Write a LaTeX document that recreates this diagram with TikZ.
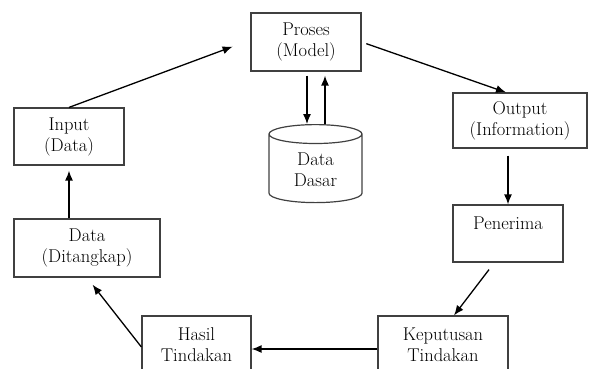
\documentclass[tikz,border=0pt]{standalone}
\usepackage{fontspec}
\usepackage{tikz}
\usetikzlibrary{shapes,arrows.meta,positioning,calc}

\begin{document}
\begin{tikzpicture}[
    x=1pt, y=-1pt,
    font=\fontsize{18.5}{21}\selectfont,
    block/.style={rectangle, draw=black!75, line width=1.2pt, align=center, minimum height=58pt, inner sep=2pt},
    dbase/.style={cylinder, shape border rotate=90, draw=black!75, line width=1.2pt, align=center, aspect=0.4, minimum width=93pt, minimum height=78pt, inner sep=2pt},
    flow/.style={-{Latex[length=10pt,width=8pt]}, line width=1.3pt}
]
    \useasboundingbox (0,0) rectangle (589,368);

    \node[block, minimum width=110pt] (proses) at (306,42) {Proses\\(Model)};
    \node[dbase] (dasar) at (315.5,170) {Data\\Dasar};
    \node[block, minimum width=110pt, minimum height=57pt] (input) at (69,136.5) {Input\\(Data)};
    \node[block, minimum width=134pt, minimum height=55pt] (output) at (520,120.5) {Output\\(Information)};
    \node[block, minimum width=110pt, minimum height=57pt] (penerima) at (508,233.5) {Penerima\\\mbox{}};
    \node[block, minimum width=146pt] (data) at (87,248) {Data\\(Ditangkap)};
    \node[block, minimum width=130pt] (keputusan) at (443,345) {Keputusan\\Tindakan};
    \node[block, minimum width=109pt] (hasil) at (196.5,345) {Hasil\\Tindakan};

    % siklus informasi
    \draw[flow, shorten >=19pt] (input.north) -- ([yshift=2pt]proses.west);
    \draw[flow, shorten <=5pt] (proses.east) -- ([xshift=-14pt]output.north);
    \draw[flow] ([xshift=1pt,yshift=-4pt]proses.south) -- ([xshift=1pt]proses.south |- dasar.north);
    \draw[flow] ([xshift=19pt]proses.south |- dasar.north) -- ([xshift=19pt,yshift=-4pt]proses.south);
    \draw[flow] ([yshift=-7pt]penerima.north |- output.south) -- (penerima.north);
    \draw[flow] ([xshift=-19pt,yshift=-7pt]penerima.south) -- ([xshift=11pt]keputusan.north);
    \draw[flow] ([yshift=-4pt]keputusan.west) -- ([yshift=-4pt]hasil.east);
    \draw[flow, shorten >=9pt] ([yshift=-2pt]hasil.west) -- (data.south);
    \draw[flow] (data.north -| input.south) -- ([yshift=-5pt]input.south);
\end{tikzpicture}
\end{document}
